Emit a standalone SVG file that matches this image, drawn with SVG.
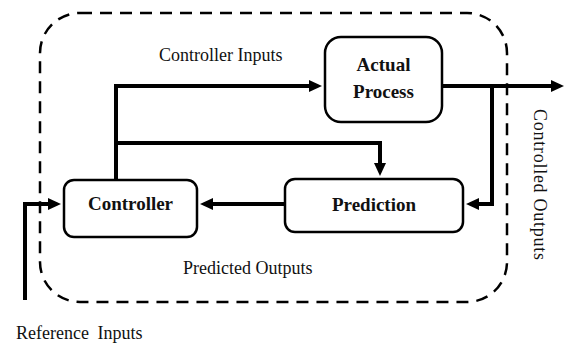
<svg xmlns="http://www.w3.org/2000/svg" width="569" height="343" viewBox="0 0 569 343">
<style>
.box{fill:#fff;stroke:#000;stroke-width:2.5}
.wire{fill:none;stroke:#000;stroke-width:4;stroke-linejoin:miter}
.lbl{font-family:"Liberation Serif","Times New Roman",serif;font-size:18px;fill:#111}
.bold{font-family:"Liberation Serif","Times New Roman",serif;font-size:19px;font-weight:bold;fill:#111;text-anchor:middle}
</style>
<defs>
<marker id="ah" markerUnits="userSpaceOnUse" markerWidth="13" markerHeight="12" refX="4" refY="6" orient="auto">
<path d="M0,0 L13,6 L0,12 z" fill="#000"/>
</marker>
</defs>
<rect id="boundary" x="40" y="13" width="467" height="289" rx="40" ry="40" fill="none" stroke="#000" stroke-width="2.5" stroke-dasharray="12,8"/>
<g id="connectors">
<path class="wire" d="M116,180 V86 H313" marker-end="url(#ah)"/>
<path class="wire" d="M116,143 H380 V167" marker-end="url(#ah)"/>
<path class="wire" d="M442,86 H555" marker-end="url(#ah)"/>
<path class="wire" d="M492,86 V204 H475" marker-end="url(#ah)"/>
<path class="wire" d="M285,204 H209" marker-end="url(#ah)"/>
<path class="wire" d="M25,300 V204 H52" marker-end="url(#ah)"/>
</g>
<g id="actual-process">
<rect class="box" x="325" y="37" width="117" height="85" rx="16" ry="16"/>
<text class="bold" x="383.5" y="71">Actual</text>
<text class="bold" x="383.5" y="98">Process</text>
</g>
<g id="controller">
<rect class="box" x="64" y="180" width="133" height="57" rx="10" ry="10"/>
<text class="bold" x="130.5" y="210">Controller</text>
</g>
<g id="prediction">
<rect class="box" x="285" y="179" width="178" height="53" rx="10" ry="10"/>
<text class="bold" x="374" y="211">Prediction</text>
</g>
<g id="labels">
<text class="lbl" x="159" y="61">Controller Inputs</text>
<text class="lbl" x="183" y="274">Predicted Outputs</text>
<text class="lbl" x="16" y="339" word-spacing="4">Reference Inputs</text>
<text class="lbl" transform="translate(534,109) rotate(90)" textLength="151" lengthAdjust="spacing">Controlled Outputs</text>
</g>
</svg>
